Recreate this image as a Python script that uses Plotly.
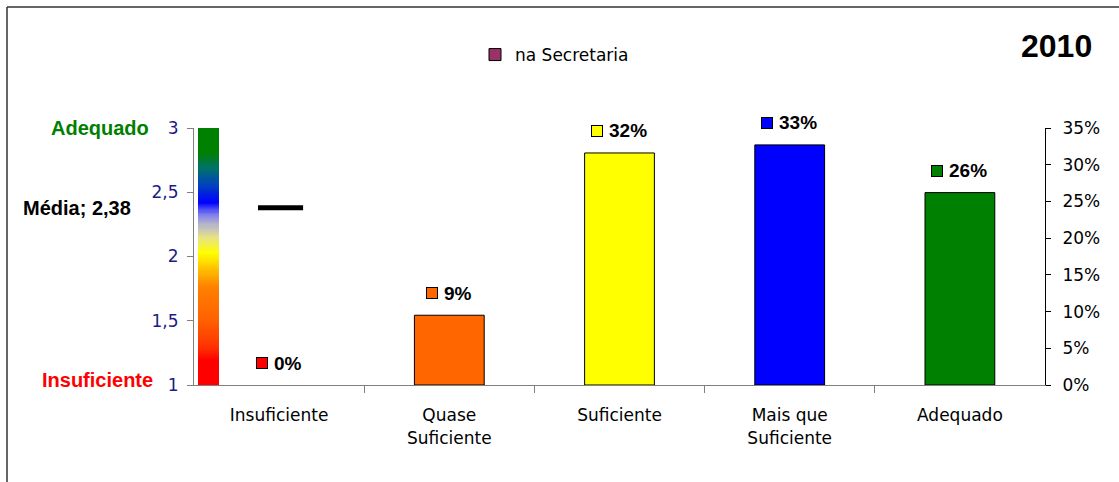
import numpy as np
import plotly.graph_objects as go

# ---------------- data ----------------
categories = ["Insuficiente", "Quase Suficiente", "Suficiente", "Mais que Suficiente", "Adequado"]
tick_labels = ["Insuficiente", "Quase<br>Suficiente", "Suficiente", "Mais que<br>Suficiente", "Adequado"]
shares = [0.0, 0.095, 0.316, 0.327, 0.262]
share_labels = ["0%", "9%", "32%", "33%", "26%"]
bar_colors = ["#FF0000", "#FF6600", "#FFFF00", "#0000FF", "#008000"]
mean_value = 2.38
mean_label = "Média; 2,38"
legend_name = "na Secretaria"
legend_color = "#993366"
year = "2010"
left_ticks = [1, 1.5, 2, 2.5, 3]
left_tick_text = ["1", "1,5", "2", "2,5", "3"]
right_ticks = [0, 0.05, 0.10, 0.15, 0.20, 0.25, 0.30, 0.35]
# colour ramp of the scale bar (level on left axis, colour)
gradient_levels = [1.0, 1.19, 1.30, 1.50, 1.76, 1.90, 2.03, 2.15, 2.25, 2.33, 2.42, 2.55, 2.68, 2.81, 3.0]
gradient_colors = ["#FF0000", "#FF0000", "#FF3300", "#FF6000", "#FF8000", "#FFC000", "#FFFF00",
                   "#E6E28A", "#B4B4CC", "#7C7CF0", "#0000FF", "#0040C0", "#007070", "#008000", "#008000"]

# ---------------- layout geometry (pixels) ----------------
W, H = 1119, 482
L, R, T, B = 194, 1045, 128, 385
pw, ph = R - L, B - T
def px_x(p):
    return (p - L) / pw
def px_y(p):
    return (B - p) / ph

REG = "DejaVu Sans"
BOLD = "Liberation Sans"
xpos = list(range(len(categories)))

fig = go.Figure()

# scale bar (gradient) on left axis
lo, hi = gradient_levels[0], gradient_levels[-1]
colorscale = [[(v - lo) / (hi - lo), c] for v, c in zip(gradient_levels, gradient_colors)]
edges = np.linspace(lo, hi, 241)
centers = (edges[:-1] + edges[1:]) / 2
fig.add_trace(go.Heatmap(
    x=[-0.4765, -0.353], y=edges, z=[[v] for v in centers],
    colorscale=colorscale, zmin=lo, zmax=hi, showscale=False,
    xaxis="x", yaxis="y", hoverinfo="skip", showlegend=False))

# mean marker line
fig.add_trace(go.Scatter(
    x=[-0.124, 0.141], y=[mean_value, mean_value], mode="lines",
    line=dict(color="black", width=5), xaxis="x", yaxis="y",
    showlegend=False, hoverinfo="skip"))

# bars (right axis)
fig.add_trace(go.Bar(
    x=xpos, y=shares, width=0.41, name="shares",
    marker=dict(color=bar_colors,
                line=dict(color="black", width=[1 if v > 0 else 0 for v in shares])),
    xaxis="x", yaxis="y2", showlegend=False, cliponaxis=False))

# legend-only series
fig.add_trace(go.Bar(
    x=[None], y=[None], name=legend_name,
    marker=dict(color=legend_color, line=dict(color="black", width=1)),
    xaxis="x", yaxis="y2", showlegend=True))

annotations = [
    dict(text="<b>" + year + "</b>", x=px_x(1056), y=px_y(46), xref="paper", yref="paper",
         xanchor="center", yanchor="middle", showarrow=False,
         font=dict(family=BOLD, size=32, color="black")),
    dict(text="<b>Adequado</b>", x=px_x(151), y=px_y(128), xref="paper", yref="paper",
         xanchor="right", yanchor="middle", showarrow=False,
         font=dict(family=BOLD, size=20, color="#008000")),
    dict(text="<b>Insuficiente</b>", x=px_x(155), y=px_y(380), xref="paper", yref="paper",
         xanchor="right", yanchor="middle", showarrow=False,
         font=dict(family=BOLD, size=20, color="#FF0000")),
    dict(text="<b>" + mean_label + "</b>", x=px_x(21), y=mean_value, xref="paper", yref="y",
         xanchor="left", yanchor="middle", showarrow=False,
         font=dict(family=BOLD, size=20, color="black")),
]

# data labels: colored key square + bold percentage, anchored on each bar top
for xi, v, s, c in zip(xpos, shares, share_labels, bar_colors):
    sq_off = 6 + 5.5 * len(s)
    annotations.append(dict(
        x=xi, y=v, xref="x", yref="y2", xshift=-sq_off, yshift=22,
        xanchor="center", yanchor="middle", showarrow=False, text=" ",
        width=10, height=10, bgcolor=c, bordercolor="black", borderwidth=1, borderpad=0,
        font=dict(size=4)))
    annotations.append(dict(
        x=xi, y=v, xref="x", yref="y2", xshift=-sq_off + 10, yshift=22,
        xanchor="left", yanchor="middle", showarrow=False, text="<b>" + s + "</b>",
        font=dict(family=BOLD, size=19, color="black")))

shapes = [
    dict(type="line", xref="paper", yref="paper", x0=px_x(7), x1=px_x(7), y0=px_y(H + 10), y1=px_y(7),
         line=dict(color="#333333", width=1.5)),
    dict(type="line", xref="paper", yref="paper", x0=px_x(7), x1=px_x(W + 10), y0=px_y(7), y1=px_y(7),
         line=dict(color="#333333", width=1.5)),
]

fig.update_layout(
    width=W, height=H,
    margin=dict(l=L, r=W - R, t=T, b=H - B, pad=0),
    paper_bgcolor="white", plot_bgcolor="white",
    font=dict(family=REG, size=17, color="black"),
    showlegend=True,
    legend=dict(x=px_x(475), y=px_y(55), xanchor="left", yanchor="middle",
                bgcolor="rgba(0,0,0,0)", font=dict(family=REG, size=17, color="black"),
                itemclick=False),
    xaxis=dict(range=[-0.5, 4.5], tickvals=xpos, ticktext=tick_labels,
               showline=True, linecolor="#808080", linewidth=1,
               ticks="outside", ticklen=7, tickcolor="rgba(0,0,0,0)",
               minor=dict(tickvals=[0.5, 1.5, 2.5, 3.5], ticks="outside", ticklen=7,
                          tickcolor="#808080", tickwidth=1),
               showgrid=False, zeroline=False, tickfont=dict(family=REG, size=17, color="black"),
               ticklabelstandoff=8),
    yaxis=dict(range=[1, 3], tickvals=left_ticks, ticktext=left_tick_text,
               showline=True, linecolor="#808080", linewidth=1, ticks="outside", ticklen=6,
               tickcolor="#808080", showgrid=False, zeroline=False,
               tickfont=dict(family=REG, size=17, color="#1C1C84"), ticklabelstandoff=5),
    yaxis2=dict(overlaying="y", side="right", range=[0, 0.35], tickvals=right_ticks,
                tickformat=".0%", showline=True, linecolor="black", linewidth=1,
                ticks="outside", ticklen=5, tickcolor="black", showgrid=False, zeroline=False,
                tickfont=dict(family=REG, size=17, color="black"), ticklabelstandoff=8),
    annotations=annotations,
    shapes=shapes,
)

fig.write_html("out.html", config={"displayModeBar": False},
               post_script="document.body.style.margin='0';")
